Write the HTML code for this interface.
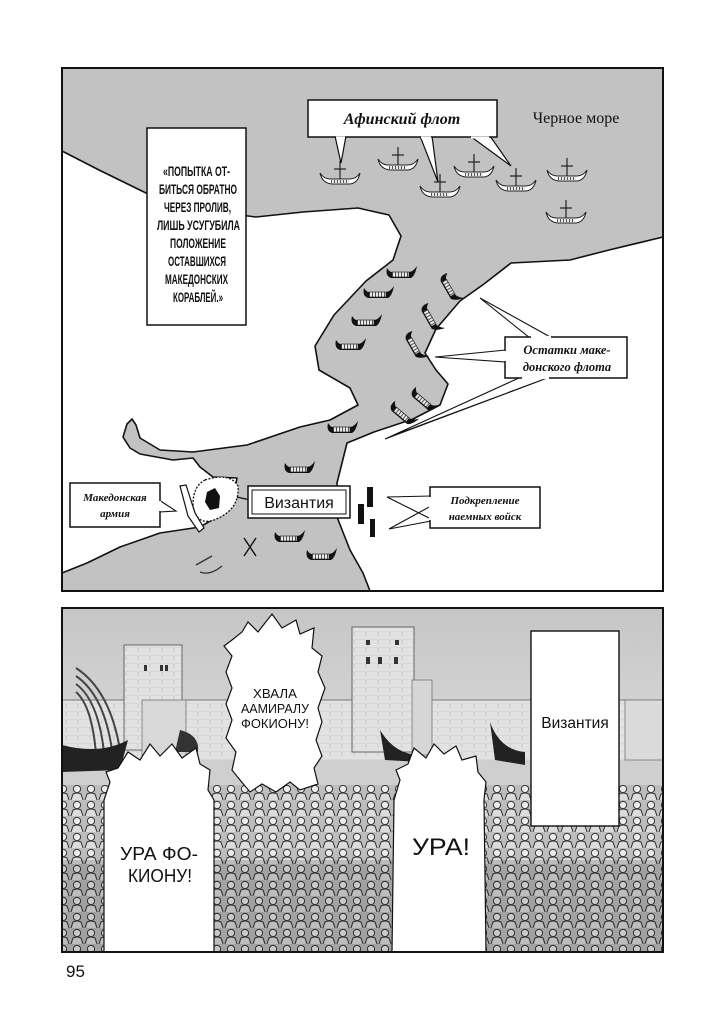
<!DOCTYPE html>
<html><head><meta charset="utf-8">
<style>
html,body{margin:0;padding:0;background:#fff;}
body{width:720px;height:1024px;position:relative;overflow:hidden;}
svg{position:absolute;left:0;top:0;}
</style></head>
<body>
<svg width="720" height="1024" viewBox="0 0 720 1024" xmlns="http://www.w3.org/2000/svg">
<defs>
  <pattern id="stripe" width="3" height="3" patternUnits="userSpaceOnUse">
    <rect width="3" height="3" fill="#e8e8e8"/><rect width="1" height="3" fill="#555"/>
  </pattern>
  <symbol id="ms" viewBox="-18 -9 36 18" overflow="visible">
    <path d="M-14,-6 Q-16,2 -10,4 L10,4 Q14,2 16,-8 Q12,-2 8,-2 L-10,-2 Q-12,-3 -14,-6 Z" fill="#111"/>
    <rect x="-9" y="-2" width="17" height="5" fill="url(#stripe)" stroke="#111" stroke-width="0.6"/>
  </symbol>
  <symbol id="as" viewBox="-22 -18 44 28" overflow="visible">
    <line x1="0" y1="-16" x2="0" y2="2" stroke="#222" stroke-width="1.2"/>
    <line x1="-6" y1="-8" x2="6" y2="-8" stroke="#222" stroke-width="1.2"/>
    <path d="M-20,-4 Q-18,6 -8,7 L10,7 Q18,6 20,-4 Q16,2 10,2 L-10,2 Q-16,2 -20,-4 Z" fill="#fff" stroke="#222" stroke-width="1"/>
    <rect x="-9" y="3" width="18" height="3" fill="url(#stripe)"/>
  </symbol>
  <pattern id="crowd" width="14" height="16" patternUnits="userSpaceOnUse">
    <rect width="14" height="16" fill="#bdbdbd"/>
    <circle cx="7" cy="5" r="3.6" fill="#ececec" stroke="#333" stroke-width="1"/>
    <path d="M1,16 L3,10 Q7,8 11,10 L13,16" fill="#dcdcdc" stroke="#333" stroke-width="1"/>
  </pattern>
  <pattern id="bricks" width="12" height="8" patternUnits="userSpaceOnUse">
    <rect width="12" height="8" fill="#e2e2e2"/>
    <path d="M0,8 H12 M6,0 V4" stroke="#bcbcbc" stroke-width="0.6"/>
  </pattern>
  <linearGradient id="sky" x1="0" y1="0" x2="0" y2="1">
    <stop offset="0" stop-color="#c6c6c6"/><stop offset="1" stop-color="#f0f0f0"/>
  </linearGradient>
</defs>

<rect x="62" y="68" width="601" height="523" fill="#c2c2c2"/>
<polygon fill="#fff" stroke="#111" stroke-width="1.6" stroke-linejoin="round"
 points="62,151 99,170 146,193 200,210 256,217 303,212 358,208 389,215 401,236 393,260 366,281 334,315 315,346 319,370 350,388 358,405 330,420 300,427 247,445 193,452 160,450 140,438 136,425 132,419 127,424 123,437 130,448 140,454 173,460 193,458 200,467 213,477 237,478 233,500 217,517 200,527 160,533 120,547 87,563 62,573"/>
<polygon fill="#fff" stroke="#111" stroke-width="1.6" stroke-linejoin="round"
 points="663,237 609,250 570,260 511,263 484,284 460,301 436,329 425,353 436,370 448,384 440,405 413,419 374,432 347,443 337,483 337,517 350,550 363,573 370,591 663,591"/>
<rect x="62" y="68" width="601" height="523" fill="none" stroke="#111" stroke-width="2"/>

<use href="#as" x="318" y="159" width="44" height="28"/>
<use href="#as" x="376" y="145" width="44" height="28"/>
<use href="#as" x="418" y="172" width="44" height="28"/>
<use href="#as" x="452" y="152" width="44" height="28"/>
<use href="#as" x="494" y="166" width="44" height="28"/>
<use href="#as" x="545" y="156" width="44" height="28"/>
<use href="#as" x="544" y="198" width="44" height="28"/>

<g>
<use href="#ms" x="383" y="265" width="36" height="18"/>
<use href="#ms" x="0" y="0" width="36" height="18" transform="translate(448,268) rotate(60)"/>
<use href="#ms" x="360" y="285" width="36" height="18"/>
<use href="#ms" x="0" y="0" width="36" height="18" transform="translate(429,298) rotate(60)"/>
<use href="#ms" x="348" y="313" width="36" height="18"/>
<use href="#ms" x="0" y="0" width="36" height="18" transform="translate(413,326) rotate(60)"/>
<use href="#ms" x="332" y="337" width="36" height="18"/>
<use href="#ms" x="0" y="0" width="36" height="18" transform="translate(415,382) rotate(40)"/>
<use href="#ms" x="0" y="0" width="36" height="18" transform="translate(394,396) rotate(40)"/>
<use href="#ms" x="324" y="420" width="36" height="18"/>
<use href="#ms" x="281" y="460" width="36" height="18"/>
<use href="#ms" x="271" y="529" width="36" height="18"/>
<use href="#ms" x="303" y="547" width="36" height="18"/>
</g>
<path d="M244,538 L256,556 M256,538 L244,556" stroke="#111" stroke-width="1.4"/>
<path d="M196,565 L212,556 M200,572 Q210,576 222,566" stroke="#333" stroke-width="1.3" fill="none"/>

<path d="M205,480 Q230,472 238,486 Q240,510 214,520 Q196,526 193,505 Q193,486 205,480 Z" fill="#fff" stroke="#111" stroke-width="1.3" stroke-dasharray="2,1.5"/>
<path d="M207,492 L215,488 L220,496 L219,508 L210,510 L205,502 Z" fill="#111"/>
<path d="M180,486 L186,485 L195,513 L204,528 L199,532 L188,516 Z" fill="#fff" stroke="#111" stroke-width="1.2"/>

<rect x="367" y="487" width="6" height="20" fill="#111"/>
<rect x="358" y="504" width="6" height="20" fill="#111"/>
<rect x="370" y="519" width="5" height="18" fill="#111"/>

<rect x="147" y="128" width="99" height="197" fill="#fff" stroke="#111" stroke-width="1.5"/>
<g font-family="Liberation Sans, sans-serif" font-weight="bold" font-size="13.5" fill="#111">
<text x="163" y="176" textLength="67" lengthAdjust="spacingAndGlyphs">«ПОПЫТКА ОТ-</text>
<text x="159" y="194" textLength="78" lengthAdjust="spacingAndGlyphs">БИТЬСЯ ОБРАТНО</text>
<text x="164" y="212" textLength="67" lengthAdjust="spacingAndGlyphs">ЧЕРЕЗ ПРОЛИВ,</text>
<text x="157" y="230" textLength="83" lengthAdjust="spacingAndGlyphs">ЛИШЬ УСУГУБИЛА</text>
<text x="170" y="248" textLength="56" lengthAdjust="spacingAndGlyphs">ПОЛОЖЕНИЕ</text>
<text x="168" y="266" textLength="58" lengthAdjust="spacingAndGlyphs">ОСТАВШИХСЯ</text>
<text x="165" y="284" textLength="63" lengthAdjust="spacingAndGlyphs">МАКЕДОНСКИХ</text>
<text x="173" y="302" textLength="50" lengthAdjust="spacingAndGlyphs">КОРАБЛЕЙ.»</text>
</g>

<path d="M335,136 L341,163 L346,136 M420,136 L438,182 L432,136 M470,136 L511,166 L490,136" fill="#fff" stroke="#111" stroke-width="1.2"/>
<rect x="308" y="100" width="189" height="37" fill="#fff" stroke="#111" stroke-width="1.5"/>
<path d="M336,137.5 H345 M421,137.5 H431 M471,137.5 H489" stroke="#fff" stroke-width="2"/>
<text x="402" y="124" font-family="Liberation Serif, serif" font-style="italic" font-weight="bold" font-size="16" text-anchor="middle" fill="#111">Афинский флот</text>
<text x="576" y="123" font-family="Liberation Serif, serif" font-size="16" text-anchor="middle" fill="#111">Черное море</text>

<path d="M530,338 L480,298 L552,338 Z M506,350 L435,357 L506,362 Z M521,377 L385,439 L550,377 L397,434" fill="#fff" stroke="#111" stroke-width="1.1"/>
<rect x="505" y="337" width="122" height="41" fill="#fff" stroke="#111" stroke-width="1.5"/>
<path d="M531,337 H551 M505,351 V361 M522,378 H549" stroke="#fff" stroke-width="2.2"/>
<g font-family="Liberation Serif, serif" font-style="italic" font-weight="bold" font-size="12.5" text-anchor="middle" fill="#111">
<text x="567" y="354">Остатки маке-</text>
<text x="567" y="371">донского флота</text>
</g>

<path d="M159,500 L176,511 L159,512" fill="#fff" stroke="#111" stroke-width="1.1"/>
<rect x="70" y="483" width="90" height="44" fill="#fff" stroke="#111" stroke-width="1.5"/>
<path d="M160,501 V511" stroke="#fff" stroke-width="2.2"/>
<g font-family="Liberation Serif, serif" font-style="italic" font-weight="bold" font-size="11" text-anchor="middle" fill="#111">
<text x="115" y="501">Македонская</text>
<text x="115" y="517">армия</text>
</g>

<line x1="237" y1="497" x2="250" y2="500" stroke="#111" stroke-width="1.2"/>
<rect x="248" y="486" width="102" height="32" fill="#fff" stroke="#111" stroke-width="1.5"/>
<rect x="252" y="490" width="94" height="24" fill="#fff" stroke="#111" stroke-width="1"/>
<text x="299" y="508" font-family="Liberation Sans, sans-serif" font-size="16" text-anchor="middle" fill="#111">Византия</text>

<path d="M431,496 L387,497 L431,519 M431,506 L389,529 L431,521" fill="#fff" stroke="#111" stroke-width="1.1"/>
<rect x="430" y="487" width="110" height="41" fill="#fff" stroke="#111" stroke-width="1.5"/>
<path d="M430,497 V520" stroke="#fff" stroke-width="2.2"/>
<g font-family="Liberation Serif, serif" font-style="italic" font-weight="bold" font-size="11" text-anchor="middle" fill="#111">
<text x="485" y="504">Подкрепление</text>
<text x="485" y="520">наемных войск</text>
</g>

<rect x="62" y="608" width="601" height="344" fill="url(#sky)"/>
<rect x="62" y="700" width="601" height="80" fill="url(#bricks)"/>
<rect x="62" y="760" width="601" height="30" fill="#cfcfcf"/>
<path d="M62,700 H663" stroke="#777" stroke-width="1"/>
<rect x="124" y="645" width="58" height="105" fill="url(#bricks)" stroke="#666" stroke-width="1"/>
<rect x="142" y="700" width="44" height="60" fill="#d8d8d8" stroke="#777" stroke-width="0.8"/>
<rect x="352" y="627" width="62" height="125" fill="url(#bricks)" stroke="#666" stroke-width="1"/>
<rect x="412" y="680" width="20" height="75" fill="#d6d6d6" stroke="#777" stroke-width="0.8"/>
<rect x="625" y="700" width="38" height="60" fill="#dadada" stroke="#777" stroke-width="0.8"/>
<g fill="#333">
<rect x="144" y="665" width="3" height="6"/><rect x="160" y="665" width="3" height="6"/><rect x="165" y="665" width="3" height="6"/>
<rect x="366" y="657" width="4" height="7"/><rect x="378" y="657" width="4" height="7"/><rect x="394" y="657" width="4" height="7"/>
<rect x="366" y="640" width="4" height="5"/><rect x="395" y="640" width="4" height="5"/>
</g>
<g fill="none" stroke="#444" stroke-width="2">
<path d="M76,668 Q110,690 120,750"/><path d="M76,676 Q104,695 112,750"/><path d="M76,684 Q98,700 104,752"/><path d="M76,692 Q92,706 96,754"/>
</g>
<path d="M62,745 Q100,755 128,740 L120,770 L62,772 Z" fill="#222"/>
<path d="M180,730 Q200,735 198,752 L175,752 Z" fill="#333"/>
<path d="M380,730 Q395,755 420,755 L420,762 L385,760 Z" fill="#222"/>
<path d="M490,722 Q500,750 525,752 L525,765 L495,760 Z" fill="#222"/>
<rect x="62" y="785" width="601" height="167" fill="url(#crowd)"/>
<rect x="62" y="860" width="601" height="92" fill="#000" opacity="0.14"/>

<polygon fill="#fff" stroke="#111" stroke-width="1.2" points="104,952 104,800 110,782 106,772 118,768 128,752 140,760 150,744 160,756 172,744 182,758 196,748 200,764 210,770 208,790 214,800 214,952"/>
<polygon fill="#fff" stroke="#111" stroke-width="1.2" points="232,640 242,632 248,622 258,632 272,614 282,628 296,620 300,634 314,628 312,648 322,656 318,672 325,688 318,708 322,722 316,740 322,756 314,768 318,784 300,790 290,782 276,792 262,784 250,792 240,780 232,770 236,752 226,738 232,720 226,704 232,688 226,672 232,656 224,646"/>
<polygon fill="#fff" stroke="#111" stroke-width="1.2" points="392,952 394,800 400,780 396,770 408,764 414,748 426,758 434,744 444,754 456,746 462,760 476,756 478,772 486,782 484,800 486,952"/>
<rect x="531" y="631" width="88" height="195" fill="#fff" stroke="#111" stroke-width="1.4"/>
<text x="575" y="728" font-family="Liberation Sans, sans-serif" font-size="15.5" text-anchor="middle" fill="#111">Византия</text>

<g font-family="Liberation Sans, sans-serif" fill="#111">
<text x="253" y="698" font-size="13" textLength="44" lengthAdjust="spacingAndGlyphs">ХВАЛА</text>
<text x="241" y="713" font-size="13" textLength="68" lengthAdjust="spacingAndGlyphs">ААМИРАЛУ</text>
<text x="241" y="728" font-size="13" textLength="68" lengthAdjust="spacingAndGlyphs">ФОКИОНУ!</text>
<text x="120" y="860" font-size="18" textLength="78" lengthAdjust="spacingAndGlyphs">УРА ФО-</text>
<text x="128" y="882" font-size="18" textLength="64" lengthAdjust="spacingAndGlyphs">КИОНУ!</text>
<text x="412" y="855" font-size="24" textLength="58" lengthAdjust="spacingAndGlyphs">УРА!</text>
</g>
<rect x="62" y="608" width="601" height="344" fill="none" stroke="#111" stroke-width="2"/>

<text x="66" y="977" font-family="Liberation Sans, sans-serif" font-size="17" fill="#111">95</text>
</svg>
</body></html>
